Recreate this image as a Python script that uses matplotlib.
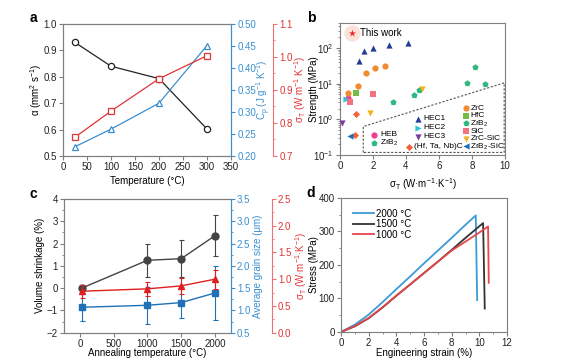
import matplotlib.pyplot as plt
from matplotlib.ticker import AutoMinorLocator, MultipleLocator

plt.rcParams['font.family'] = ['Liberation Sans', 'DejaVu Sans']
plt.rcParams['font.size'] = 7
plt.rcParams['mathtext.default'] = 'regular'
plt.rcParams['axes.linewidth'] = 0.8
plt.rcParams['axes.edgecolor'] = '#7f7f7f'
plt.rcParams['xtick.major.size'] = 3
plt.rcParams['ytick.major.size'] = 3
plt.rcParams['xtick.minor.size'] = 1.6
plt.rcParams['ytick.minor.size'] = 1.6
plt.rcParams['xtick.color'] = '#7f7f7f'
plt.rcParams['ytick.color'] = '#7f7f7f'
plt.rcParams['xtick.labelcolor'] = '#222222'
plt.rcParams['ytick.labelcolor'] = '#222222'
plt.rcParams['xtick.major.pad'] = 1.5
plt.rcParams['ytick.major.pad'] = 1.5

BLUE = '#3a8fd0'
RED = '#e03434'
RED_AX = '#ee7070'

# ---- panel a data
temp_a = [25, 100, 200, 300]
alpha_a = [0.93, 0.84, 0.793, 0.602]
cp_a = [0.221, 0.261, 0.32, 0.451]
sigma_a = [0.757, 0.836, 0.934, 1.004]

# ---- panel b data (thermal conductivity, strength)
this_work = ([0.7], [260])
hec1_x, hec1_y = [1.15, 1.45, 2.0, 3.0, 4.1], [42, 82, 100, 120, 135]
hec2_x, hec2_y = [0.35], [3.6]
hec3_x, hec3_y = [0.15], [0.81]
heb_x, heb_y = [0.5], [4.0]
zrb2a_x, zrb2a_y = [3.2, 4.5, 4.8], [3.1, 4.8, 6.6]
htn_x, htn_y = [0.95, 0.92], [1.38, 0.36]
zrc_x, zrc_y = [0.5, 1.1, 1.55, 2.1, 2.75], [5.6, 8.4, 19.4, 27.8, 31.7]
hfc_x, hfc_y = [1.0], [5.6]
zrb2b_x, zrb2b_y = [7.7, 8.2, 8.8], [10.7, 28.4, 9.8]
sic_x, sic_y = [2.0, 0.6], [5.05, 3.1]
zrcsic_x, zrcsic_y = [1.8, 5.0], [1.53, 7.3]
zrb2sic_x, zrb2sic_y = [0.6], [0.35]
region_x = [1.41, 1.41, 9.95, 9.95, 1.41]
region_y = [0.118, 0.63, 10.5, 0.118, 0.118]

# ---- panel c data
temp_c = [25, 1000, 1500, 2000]
shrink = [0.0, 1.25, 1.32, 2.35]
shrink_err = [0.06, 0.75, 0.83, 0.93]
grain = [1.07, 1.115, 1.175, 1.39]
grain_err = [0.3, 0.42, 0.34, 0.6]
sigma_c = [0.775, 0.82, 0.875, 1.0]
sigma_c_err = [0.12, 0.13, 0.15, 0.18]

# ---- panel d data (stress-strain)
strain_2000 = [0, 1, 2, 3, 4, 5, 6, 7, 8, 9, 9.74, 9.84]
stress_2000 = [0, 22, 52, 89, 128, 166, 205, 243, 281, 320, 348, 95]
strain_1500 = [0, 1, 2, 3, 4, 5, 6, 7, 8, 9, 10.27, 10.39]
stress_1500 = [0, 17, 41, 73, 108, 142, 176, 210, 245, 281, 325, 70]
strain_1000 = [0, 1, 2, 3, 4, 5, 6, 7, 8, 9, 10, 10.63, 10.68]
stress_1000 = [0, 18, 42, 74, 109, 142, 176, 210, 243, 270, 297, 315, 147]

fig = plt.figure(figsize=(5.79, 3.6), dpi=100)


def color_axis(ax, color, spine_color):
    ax.spines['right'].set_color(spine_color)
    ax.tick_params(axis='y', which='both', colors=spine_color, labelcolor=color)
    ax.yaxis.label.set_color(color)


def third_axis(ax, offset):
    axr = ax.twinx()
    axr.spines['right'].set_position(('axes', offset))
    for s in ['top', 'left', 'bottom']:
        axr.spines[s].set_visible(False)
    return axr


# ================= a
ax = fig.add_axes([0.1088, 0.5667, 0.2902, 0.3667])
ax.plot(temp_a, alpha_a, '-o', color='#222222', mfc='white', ms=4.5, mew=0.9, lw=0.9)
ax.set_xlim(0, 350)
ax.set_ylim(0.5, 1.0)
ax.xaxis.set_major_locator(MultipleLocator(50))
ax.yaxis.set_major_locator(MultipleLocator(0.1))
ax.set_xlabel('Temperature (°C)')
ax.set_ylabel('α (mm$^{2}$ s$^{-1}$)')
ax.xaxis.set_label_coords(0.5, -0.152)
ax.yaxis.set_label_coords(-0.113, 0.5)

axb = ax.twinx()
axb.plot(temp_a, cp_a, '-^', color=BLUE, mfc='white', ms=5, mew=0.9, lw=0.9)
axb.set_ylim(0.2, 0.5)
axb.yaxis.set_major_locator(MultipleLocator(0.05))
axb.set_ylabel('C$_{p}$ (J g$^{-1}$ K$^{-1}$)')
axb.yaxis.set_label_coords(1.143, 0.5)
color_axis(axb, BLUE, BLUE)

axr = third_axis(ax, 1.25)
axr.plot(temp_a, sigma_a, '-s', color=RED, mfc='white', ms=4.5, mew=0.9, lw=0.9)
axr.set_ylim(0.7, 1.1)
axr.yaxis.set_major_locator(MultipleLocator(0.1))
axr.yaxis.set_minor_locator(AutoMinorLocator(2))
axr.set_ylabel('σ$_{T}$ (W m$^{-1}$ K$^{-1}$)')
axr.yaxis.set_label_coords(1.365, 0.5)
color_axis(axr, RED, RED_AX)

# ================= b
ax = fig.add_axes([0.5872, 0.5694, 0.285, 0.3667])
ax.set_yscale('log')
ax.set_xlim(0, 10)
ax.set_ylim(0.1, 500)
ax.xaxis.set_major_locator(MultipleLocator(2))
ax.fill(region_x, region_y, facecolor='white', edgecolor='#555555',
        ls=(0, (2, 1.5)), lw=0.8, zorder=1)

ax.scatter(*this_work, s=140, color='#fbe2d8', zorder=2, linewidths=0)
ax.scatter(*this_work, s=28, marker='*', color='#e8282a', zorder=3, linewidths=0)
ax.annotate('This work', (this_work[0][0], this_work[1][0]), xytext=(6, 0),
            textcoords='offset points', va='center', fontsize=7)


def series(x, y, marker, color, s, label, key_x, key_y, text_x):
    ax.scatter(x, y, marker=marker, color=color, s=s, linewidths=0, zorder=3)
    # legend key drawn inside the dashed box
    ax.scatter([key_x], [key_y], marker=marker, color=color, s=s, linewidths=0,
               zorder=3, transform=ax.transAxes, clip_on=False)
    ax.text(text_x, key_y, label, transform=ax.transAxes, fontsize=6,
            va='center', ha='left', zorder=4)


series(heb_x, heb_y, 'o', '#ec3c96', 20, 'HEB', 0.208, 0.152, 0.242)
series(zrb2a_x, zrb2a_y, 'p', '#2fb87f', 22, 'ZrB$_{2}$', 0.208, 0.089, 0.242)
series(hec1_x, hec1_y, '^', '#233d95', 20, 'HEC1', 0.475, 0.275, 0.505)
series(hec2_x, hec2_y, '>', '#2cc3d9', 20, 'HEC2', 0.475, 0.207, 0.505)
series(hec3_x, hec3_y, 'v', '#7b3c9c', 20, 'HEC3', 0.475, 0.139, 0.505)
series(htn_x, htn_y, 'D', '#f4623a', 13, '(Hf, Ta, Nb)C', 0.418, 0.063, 0.448)
series(zrc_x, zrc_y, 'o', '#f28a30', 20, 'ZrC', 0.762, 0.356, 0.79)
series(hfc_x, hfc_y, 's', '#72bd44', 16, 'HfC', 0.762, 0.298, 0.79)
series(zrb2b_x, zrb2b_y, 'p', '#2fb87f', 22, 'ZrB$_{2}$', 0.762, 0.239, 0.79)
series(sic_x, sic_y, 's', '#f2727f', 16, 'SiC', 0.762, 0.181, 0.79)
series(zrcsic_x, zrcsic_y, 'v', '#f5b21e', 20, 'ZrC-SiC', 0.762, 0.123, 0.79)
series(zrb2sic_x, zrb2sic_y, '<', '#1f6fb6', 20, 'ZrB$_{2}$-SiC', 0.762, 0.065, 0.79)

ax.set_xlabel('σ$_{T}$ (W·m$^{-1}$·K$^{-1}$)')
ax.set_ylabel('Strength (MPa)')
ax.xaxis.set_label_coords(0.5, -0.159)
ax.yaxis.set_label_coords(-0.13, 0.5)

# ================= c
ax = fig.add_axes([0.111, 0.0759, 0.2874, 0.3713])
ax.errorbar(temp_c, shrink, yerr=shrink_err, fmt='-o', color='#444444', ms=5,
            lw=1, elinewidth=0.8, capsize=1.8, capthick=0.8, zorder=3)
ax.set_xlim(-235, 2235)
ax.set_ylim(-2, 4)
ax.xaxis.set_major_locator(MultipleLocator(500))
ax.yaxis.set_major_locator(MultipleLocator(1))
ax.yaxis.set_minor_locator(AutoMinorLocator(2))
ax.set_xlabel('Annealing temperature (°C)')
ax.set_ylabel('Volume shrinkage (%)')
ax.xaxis.set_label_coords(0.5, -0.114)
ax.yaxis.set_label_coords(-0.116, 0.5)

axb = ax.twinx()
axb.errorbar(temp_c, grain, yerr=grain_err, fmt='-s', color='#2070b8', ms=4.5,
             lw=1, elinewidth=0.8, capsize=1.8, capthick=0.8)
axb.set_ylim(0.5, 3.5)
axb.yaxis.set_major_locator(MultipleLocator(0.5))
axb.yaxis.set_minor_locator(AutoMinorLocator(2))
axb.set_ylabel('Average grain size (μm)')
axb.yaxis.set_label_coords(1.134, 0.5)
color_axis(axb, BLUE, BLUE)

axr = third_axis(ax, 1.246)
axr.errorbar(temp_c, sigma_c, yerr=sigma_c_err, fmt='-^', color='#e02020', ms=5,
             lw=1, elinewidth=0.8, capsize=1.8, capthick=0.8)
axr.set_ylim(0, 2.5)
axr.yaxis.set_major_locator(MultipleLocator(0.5))
axr.yaxis.set_minor_locator(AutoMinorLocator(2))
axr.set_ylabel('σ$_{T}$ (W·m$^{-1}$·K$^{-1}$)')
axr.yaxis.set_label_coords(1.375, 0.5)
color_axis(axr, RED, RED_AX)

# ================= d
ax = fig.add_axes([0.589, 0.0778, 0.2867, 0.3722])
ax.plot(strain_2000, stress_2000, color='#3c9ad6', lw=1.3, label='2000 °C')
ax.plot(strain_1500, stress_1500, color='#333333', lw=1.3, label='1500 °C')
ax.plot(strain_1000, stress_1000, color='#e8474c', lw=1.3, label='1000 °C')
ax.set_xlim(0, 12)
ax.set_ylim(0, 400)
ax.xaxis.set_major_locator(MultipleLocator(2))
ax.xaxis.set_minor_locator(AutoMinorLocator(2))
ax.yaxis.set_major_locator(MultipleLocator(100))
ax.yaxis.set_minor_locator(AutoMinorLocator(2))
ax.legend(loc='upper left', bbox_to_anchor=(0.07, 0.92), frameon=False, fontsize=7,
          handlelength=2.2, handletextpad=0.2, labelspacing=0.05, borderpad=0,
          borderaxespad=0)
ax.set_xlabel('Engineering strain (%)')
ax.set_ylabel('Stress (MPa)')
ax.xaxis.set_label_coords(0.5, -0.12)
ax.yaxis.set_label_coords(-0.13, 0.5)

for lab, (x, y) in zip('abcd', [(33, 18), (311, 18), (33, 194), (311, 193)]):
    fig.text(x / 579, 1 - y / 360, lab, fontsize=10, fontweight='bold',
             ha='center', va='center')

fig.savefig('out.png', dpi=100)
